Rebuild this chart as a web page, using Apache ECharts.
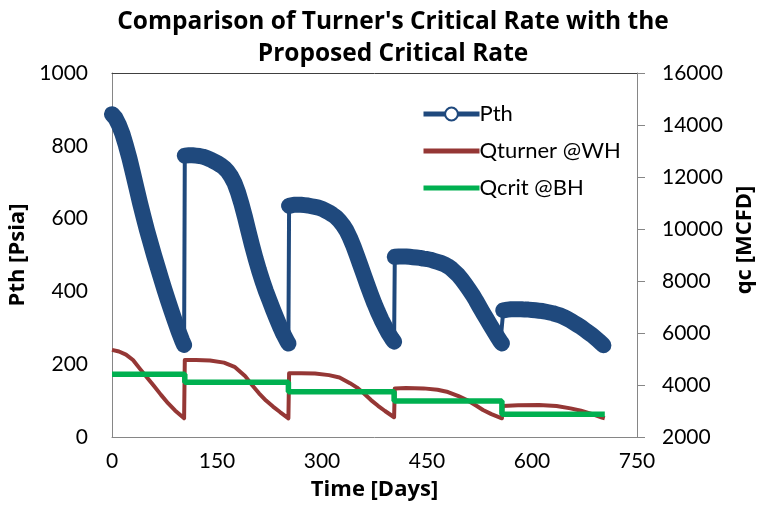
<!DOCTYPE html>
<html>
<head>
<meta charset="utf-8">
<script src="https://cdn.jsdelivr.net/npm/echarts@6/dist/echarts.min.js"></script>
<style>
  html, body { margin: 0; padding: 0; background: #fff; }
  #chart { width: 758px; height: 508px; }
</style>
</head>
<body>
<div id="chart"></div>
<script>
// Tubing-head pressure, psia, by day
const pthDays = [
  0, 5, 10, 15, 20, 25, 30, 35, 40, 45, 50, 55, 60, 65, 70, 75, 80, 85, 90, 95, 100, 103,
  104, 110, 115, 120, 125, 130, 135, 140, 145, 150, 155, 160, 165, 170, 175, 180, 185, 190, 195, 200, 205, 210, 215, 220, 225, 230, 235, 240, 245, 250, 252,
  253, 260, 265, 270, 275, 280, 285, 290, 295, 300, 305, 310, 315, 320, 325, 330, 335, 340, 345, 350, 355, 360, 365, 370, 375, 380, 385, 390, 395, 400, 403,
  404, 410, 415, 420, 425, 430, 435, 440, 445, 450, 455, 460, 465, 470, 475, 480, 485, 490, 495, 500, 505, 510, 515, 520, 525, 530, 535, 540, 545, 550, 555, 557,
  559, 565, 570, 575, 580, 585, 590, 595, 600, 605, 610, 615, 620, 625, 630, 635, 640, 645, 650, 655, 660, 665, 670, 675, 680, 685, 690, 695, 700, 702
];
const pthPsia = [
  887, 876, 857, 832, 800, 765, 725, 684, 643, 605, 568, 534, 500, 468, 436, 405, 375, 346, 318, 291, 266, 253,
  773, 774, 774, 773, 772, 770, 767, 763, 758, 753, 747, 740, 730, 716, 698, 672, 640, 604, 565, 527, 491, 458, 428, 400, 375, 350, 326, 303, 282, 264, 257,
  635, 638, 638, 638, 637, 636, 634, 632, 630, 627, 622, 617, 611, 604, 594, 582, 567, 547, 524, 498, 471, 444, 417, 391, 366, 343, 322, 303, 285, 270, 262,
  495, 496, 496, 496, 495, 494, 493, 492, 490, 489, 487, 484, 481, 478, 474, 469, 462, 453, 444, 432, 419, 405, 391, 375, 358, 341, 325, 309, 293, 277, 262, 257,
  348, 350, 351, 351, 351, 351, 350, 350, 349, 348, 347, 346, 344, 342, 340, 337, 334, 330, 325, 320, 314, 308, 302, 295, 288, 281, 273, 265, 256, 252
];

// Turner critical rate at the wellhead, MCFD
const qturnerDays = [
  0, 10, 20, 30, 40, 50, 60, 70, 80, 90, 103,
  104, 120, 140, 160, 175, 190, 200, 210, 220, 230, 240, 252,
  253, 270, 290, 310, 325, 340, 350, 360, 370, 380, 390, 403,
  404, 420, 445, 465, 480, 495, 507, 520, 530, 542, 557,
  558, 580, 610, 635, 655, 670, 685, 700, 704
];
const qturnerMcfd = [
  5350, 5290, 5170, 4960, 4620, 4290, 3960, 3620, 3300, 3020, 2720,
  4960, 4960, 4940, 4860, 4700, 4350, 4000, 3680, 3400, 3170, 2960, 2720,
  4450, 4450, 4440, 4380, 4290, 4070, 3900, 3670, 3420, 3200, 3000, 2760,
  3870, 3880, 3870, 3820, 3730, 3570, 3420, 3210, 3040, 2880, 2720,
  3190, 3220, 3230, 3190, 3100, 3010, 2890, 2750, 2720
];

// Proposed critical rate at bottom hole, MCFD (held constant over each period)
const qcritDays = [0, 104, 252, 403, 557, 704];
const qcritMcfd = [4410, 4103, 3743, 3385, 2873, 2873];

// Axis ticks
const dayTicks = { min: 0, max: 750, step: 150 };
const psiaTicks = { min: 0, max: 1000, step: 200 };
const mcfdTicks = { min: 2000, max: 16000, step: 2000 };

const BLUE = '#1F497D';
const RED = '#953735';
const GREEN = '#00B050';
const AXIS_GRAY = '#868686';
const FONT = 'Lato';
const BOLD_FONT = 'Open Sans';

const plain = v => String(v);

const pthPoints = pthDays.map((d, i) => [d, pthPsia[i]]);
// Thick band for each decline period; a null breaks it where pressure jumps back up
const pthBand = [];
pthPoints.forEach((p, i) => {
  if (i > 0 && p[1] > pthPoints[i - 1][1] + 50) pthBand.push(null);
  pthBand.push(p);
});
const qturnerPoints = qturnerDays.map((d, i) => [d, qturnerMcfd[i]]);
const qcritPoints = qcritDays.map((d, i) => [d, qcritMcfd[i]]);

const chart = echarts.init(document.getElementById('chart'), null, { renderer: 'canvas' });

chart.setOption({
  animation: false,
  backgroundColor: '#fff',
  textStyle: { fontFamily: FONT },
  title: {
    text: "Comparison of Turner's Critical Rate with the\nProposed Critical Rate",
    left: 388,
    textAlign: 'center',
    top: 1,
    textStyle: { fontFamily: BOLD_FONT, fontSize: 24.5, fontWeight: 'bold', color: '#000', lineHeight: 32 }
  },
  grid: { left: 112, right: 121, top: 73, bottom: 71, containLabel: false, outerBoundsMode: 'none' },
  legend: {
    orient: 'vertical',
    left: 421,
    top: 103,
    padding: 0,
    itemWidth: 56,
    itemHeight: 16,
    itemGap: 15,
    textStyle: { fontFamily: FONT, fontSize: 22, color: '#000', padding: [0, 0, 0, -5] },
    data: [
      { name: 'Pth', lineStyle: { width: 5 } },
      { name: 'Qturner @WH', icon: 'path://M0,0H56V5H0Z' },
      { name: 'Qcrit @BH', icon: 'path://M0,0H56V5H0Z' }
    ]
  },
  xAxis: [
    {
      type: 'value',
      position: 'bottom',
      min: dayTicks.min, max: dayTicks.max, interval: dayTicks.step,
      name: 'Time [Days]',
      nameLocation: 'middle',
      nameGap: 42,
      nameTextStyle: { fontFamily: BOLD_FONT, fontSize: 22, fontWeight: 'bold', color: '#000' },
      axisLine: { show: true, onZero: false, lineStyle: { color: AXIS_GRAY, width: 1 } },
      axisTick: { show: false },
      axisLabel: { fontFamily: FONT, fontSize: 21, color: '#000', margin: 14, formatter: plain },
      splitLine: { show: false }
    },
    {
      type: 'value',
      position: 'top',
      min: dayTicks.min, max: dayTicks.max,
      axisLine: { show: true, onZero: false, lineStyle: { color: '#404040', width: 1 } },
      axisTick: { show: false },
      axisLabel: { show: false },
      splitLine: { show: false }
    }
  ],
  yAxis: [
    {
      type: 'value',
      position: 'left',
      min: psiaTicks.min, max: psiaTicks.max, interval: psiaTicks.step,
      name: 'Pth [Psia]',
      nameLocation: 'middle',
      nameRotate: 90,
      nameGap: 78,
      nameTextStyle: { fontFamily: BOLD_FONT, fontSize: 22, fontWeight: 'bold', color: '#000' },
      axisLine: { show: true, onZero: false, lineStyle: { color: AXIS_GRAY, width: 1 } },
      axisTick: { show: false },
      axisLabel: { fontFamily: FONT, fontSize: 21, color: '#000', margin: 24, formatter: plain },
      splitLine: { show: false }
    },
    {
      type: 'value',
      position: 'right',
      min: mcfdTicks.min, max: mcfdTicks.max, interval: mcfdTicks.step,
      name: 'qc [MCFD]',
      nameLocation: 'middle',
      nameRotate: 90,
      nameGap: 95,
      nameTextStyle: { fontFamily: BOLD_FONT, fontSize: 22, fontWeight: 'bold', color: '#000', padding: [0, 0, 0, 30] },
      axisLine: { show: true, onZero: false, lineStyle: { color: AXIS_GRAY, width: 1 } },
      axisTick: { show: true, inside: false, length: 8, lineStyle: { color: AXIS_GRAY, width: 1 } },
      axisLabel: { fontFamily: FONT, fontSize: 21, color: '#000', margin: 25, formatter: plain },
      splitLine: { show: false }
    }
  ],
  series: [
    {
      name: 'Qturner @WH',
      type: 'line',
      xAxisIndex: 0,
      yAxisIndex: 1,
      data: qturnerPoints,
      showSymbol: false,
      symbol: 'none',
      color: RED,
      lineStyle: { color: RED, width: 4, join: 'round' },
      z: 2
    },
    {
      name: 'Qcrit @BH',
      type: 'line',
      xAxisIndex: 0,
      yAxisIndex: 1,
      data: qcritPoints,
      step: 'end',
      showSymbol: false,
      symbol: 'none',
      color: GREEN,
      lineStyle: { color: GREEN, width: 5.5 },
      z: 3
    },
    {
      name: 'Pth',
      type: 'line',
      xAxisIndex: 0,
      yAxisIndex: 0,
      data: pthPoints,
      symbol: 'emptyCircle',
      symbolSize: 12,
      showSymbol: false,
      color: BLUE,
      itemStyle: { color: BLUE, borderWidth: 3 },
      lineStyle: { color: BLUE, width: 4 },
      z: 4
    },
    {
      name: 'Pth band',
      type: 'line',
      xAxisIndex: 0,
      yAxisIndex: 0,
      data: pthBand,
      connectNulls: false,
      showSymbol: false,
      symbol: 'none',
      silent: true,
      color: BLUE,
      lineStyle: { color: BLUE, width: 16, cap: 'round', join: 'round' },
      z: 5
    }
  ]
});
</script>
</body>
</html>
